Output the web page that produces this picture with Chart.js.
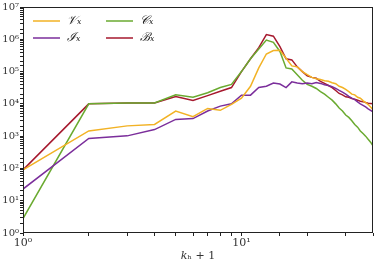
<!DOCTYPE html>
<html><head><meta charset="utf-8">
<script src="https://cdn.jsdelivr.net/npm/chart.js@4.4.1/dist/chart.umd.min.js"></script>
<style>html,body{margin:0;padding:0;background:#fff}#wrap{width:374px;height:265px;position:relative}</style>
</head><body><div id="wrap"><canvas id="c" width="374" height="265"></canvas></div>
<script>
const khPlus1 = [1,2,3,4,5,6,7,8,9,10,11,12,13,14,15,16,17,18,19,20,21,22,23,24,25,26,27,28,29,30,31,32,33,34,35,36,37,38,39,40];
const V = [90,1450,2080,2300,6000,4000,7200,6300,9600,15000,35000,130000,350000,450000,460000,260000,150000,140000,100000,80000,66000,60000,57000,52000,50000,45000,42000,35000,32000,28000,24000,20000,19000,16000,15000,12600,11000,9500,8000,6600];
const I = [23,850,1020,1600,3300,3500,6000,8500,10000,18600,18600,32000,35000,44000,41000,32000,48000,44000,42000,44000,42000,46000,43000,39000,37000,34000,30000,26000,23000,20000,17000,15000,13500,11500,10000,9000,8000,7000,6300,5600];
const C = [2.8,10000,10700,10700,19000,16000,22000,32000,40000,100000,250000,500000,950000,800000,420000,130000,120000,80000,54000,40000,35000,30000,24000,20000,16000,13000,10000,7400,6000,4500,3800,3000,2300,1900,1450,1200,1000,800,650,500];
const B = [90,10000,10700,10700,17000,12700,18000,24500,32000,100000,250000,550000,1400000,1250000,590000,250000,230000,140000,100000,74000,66000,62000,50000,43000,37000,32000,26000,21000,19000,16500,16000,14500,14000,13000,12000,11700,11000,10500,10300,10000];
const seriesLabels = ['𝒱ₓ','ℐₓ','𝒞ₓ','ℬₓ'];
const seriesColors = ['#f2b225','#7b2e9b','#6aaa30','#a6192e'];
const xTitle = '𝑘ₕ + 1';
const supers = {0:'⁰',1:'¹',2:'²',3:'³',4:'⁴',5:'⁵',6:'⁶',7:'⁷'};

const all = [V,I,C,B];
const datasets = all.map((arr,i)=>({
  label: seriesLabels[i],
  data: khPlus1.map((x,j)=>({x:x,y:arr[j]})),
  borderColor: seriesColors[i],
  backgroundColor: seriesColors[i],
  borderWidth: 1.5,
  pointRadius: 0,
  tension: 0,
  fill: false
}));

function decadeLabel(v){
  const l = Math.log10(v);
  if (Math.abs(l - Math.round(l)) < 1e-9) return '10' + supers[Math.round(l)];
  return '';
}

const frameLegend = {
  id:'frameLegend',
  afterDraw(chart){
    const ctx = chart.ctx, a = chart.chartArea;
    ctx.save();
    ctx.strokeStyle = '#222';
    ctx.lineWidth = 1;
    ctx.strokeRect(a.left+0.5, a.top+0.5, a.right-a.left-1, a.bottom-a.top-1);
    const pos = [[33,21],[33,38],[106,21],[106,38]];
    chart.data.datasets.forEach((ds,i)=>{
      const p = pos[i];
      ctx.strokeStyle = ds.borderColor;
      ctx.lineWidth = 1.5;
      ctx.beginPath(); ctx.moveTo(p[0], p[1]); ctx.lineTo(p[0]+27, p[1]); ctx.stroke();
      ctx.fillStyle = '#222';
      ctx.font = 'italic 12px "DejaVu Serif", serif';
      ctx.textBaseline = 'middle';
      ctx.fillText(ds.label, p[0]+34, p[1]);
    });
    ctx.restore();
  }
};

new Chart(document.getElementById('c'), {
  type:'line',
  data:{datasets},
  options:{
    responsive:false,
    animation:false,
    layout:{padding:{top:5,right:1,left:0,bottom:0}},
    plugins:{legend:{display:false},tooltip:{enabled:false}},
    scales:{
      x:{
        type:'logarithmic', min:1, max:40,
        border:{display:false},
        grid:{display:true, drawOnChartArea:false, drawTicks:true, tickLength:3, color:'#222'},
        ticks:{autoSkip:false, maxRotation:0, padding:1, color:'#333', font:{family:'"DejaVu Serif", serif', size:11}, callback:(v)=>decadeLabel(v)},
        title:{display:true, text:xTitle, color:'#333', font:{family:'"DejaVu Serif", serif', size:11}, padding:{top:0,bottom:2}},
        afterFit(s){ s.height = 32; }
      },
      y:{
        type:'logarithmic', min:1, max:1e7,
        border:{display:false},
        grid:{display:true, drawOnChartArea:false, drawTicks:true, tickLength:3, color:'#222'},
        ticks:{autoSkip:false, padding:1, color:'#333', font:{family:'"DejaVu Serif", serif', size:10}, callback:(v)=>decadeLabel(v)},
        afterFit(s){ s.width = 23; }
      }
    }
  },
  plugins:[frameLegend]
});
</script></body></html>
